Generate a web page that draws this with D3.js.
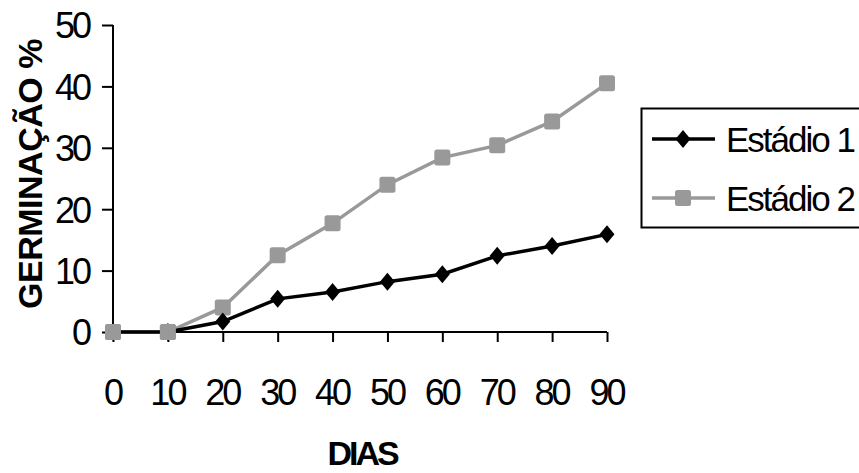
<!DOCTYPE html>
<html>
<head>
<meta charset="utf-8">
<script src="https://cdn.jsdelivr.net/npm/d3@7"></script>
<style>
  body{margin:0;background:#fff;}
  text{font-family:"Liberation Sans",Arial,sans-serif;}
</style>
</head>
<body>
<script>
var dias=[0,10,20,30,40,50,60,70,80,90];
var estadio1=[0,0,1.7,5.4,6.5,8.2,9.4,12.4,14,15.9];
var estadio2=[0,0,4,12.5,17.7,24,28.4,30.4,34.3,40.5];
var yTicks=[0,10,20,30,40,50];
var seriesNames=["Estádio 1","Estádio 2"];

var W=859,H=473;

var svg=d3.select("body").append("svg")
            .attr("width",W)
            .attr("height",H);

var x=d3.scaleLinear().domain([0,90]).range([113,607]);
var y=d3.scaleLinear().domain([0,50]).range([332,25]);

//axes
var xAxis=svg.append("g")
            .attr("transform","translate(0,332)")
            .call(d3.axisBottom(x).tickValues(dias).tickSize(10).tickPadding(63));
var yAxis=svg.append("g")
            .attr("transform","translate(113,0)")
            .call(d3.axisLeft(y).tickValues(yTicks).tickSize(11).tickPadding(13));

[xAxis,yAxis].forEach(function(a){
    a.select(".domain").attr("stroke","#000").attr("stroke-width",2);
    a.selectAll(".tick line").attr("stroke","#000").attr("stroke-width",2);
    a.selectAll(".tick text")
        .attr("fill","#000")
        .style("font-size","36px")
        .style("letter-spacing","-3px");
});
xAxis.select(".domain").attr("d","M113,0H607");
yAxis.select(".domain").attr("d","M0,25V332");
xAxis.selectAll(".tick text").attr("dy","0").attr("dx","-1");
yAxis.selectAll(".tick text").attr("dy","0.36em");

//axis titles
svg.append("text")
    .attr("transform","translate(42,174) rotate(-90)")
    .attr("text-anchor","middle")
    .style("font-size","34px")
    .style("font-weight","bold")
    .style("letter-spacing","-0.5px")
    .text("GERMINAÇÃO %");
svg.append("text")
    .attr("x",362).attr("y",465)
    .attr("text-anchor","middle")
    .style("font-size","34px")
    .style("font-weight","bold")
    .style("letter-spacing","-3px")
    .text("DIAS");

//lines
var line=d3.line().x(function(d,i){return x(dias[i]);}).y(function(d){return y(d);});

var series=[
    {name:seriesNames[0],values:estadio1,color:"#000",shape:"diamond"},
    {name:seriesNames[1],values:estadio2,color:"#999",shape:"square"}
];

var diamond="M0,-9L7.5,0L0,9L-7.5,0Z";

function drawMarker(g,s,cx,cy){
    if(s.shape=="diamond"){
        g.append("path")
            .attr("d",diamond)
            .attr("transform","translate("+cx+","+cy+")")
            .attr("fill",s.color);
    }else{
        g.append("rect")
            .attr("x",cx-8).attr("y",cy-8)
            .attr("width",16).attr("height",16)
            .attr("rx",2.5)
            .attr("fill",s.color);
    }
}

// draw gray first so black sits on top like the original
[series[1],series[0]].forEach(function(s){
    var g=svg.append("g");
    g.append("path")
        .datum(s.values)
        .attr("d",line)
        .attr("fill","none")
        .attr("stroke",s.color)
        .attr("stroke-width",3.5);
    s.values.forEach(function(v,i){
        drawMarker(g,s,x(dias[i]),y(v));
    });
});
// gray markers at 0,10 sit over the black ones
svg.append("g").call(function(g){
    [0,1].forEach(function(i){drawMarker(g,series[1],x(dias[i]),y(estadio2[i]));});
});

//legend
var legend=svg.append("g");
legend.append("rect")
    .attr("x",641.5).attr("y",108.5)
    .attr("width",240).attr("height",119)
    .attr("fill","#fff")
    .attr("stroke","#000")
    .attr("stroke-width",2);
var rowY=[139,198];
series.forEach(function(s,i){
    legend.append("line")
        .attr("x1",652).attr("x2",715)
        .attr("y1",rowY[i]).attr("y2",rowY[i])
        .attr("stroke",s.color)
        .attr("stroke-width",3.5);
    drawMarker(legend,s,683,rowY[i]);
    legend.append("text")
        .attr("x",726).attr("y",rowY[i])
        .attr("dy","0.36em")
        .style("font-size","35px")
        .style("letter-spacing","-2px")
        .text(s.name);
});
</script>
</body>
</html>
